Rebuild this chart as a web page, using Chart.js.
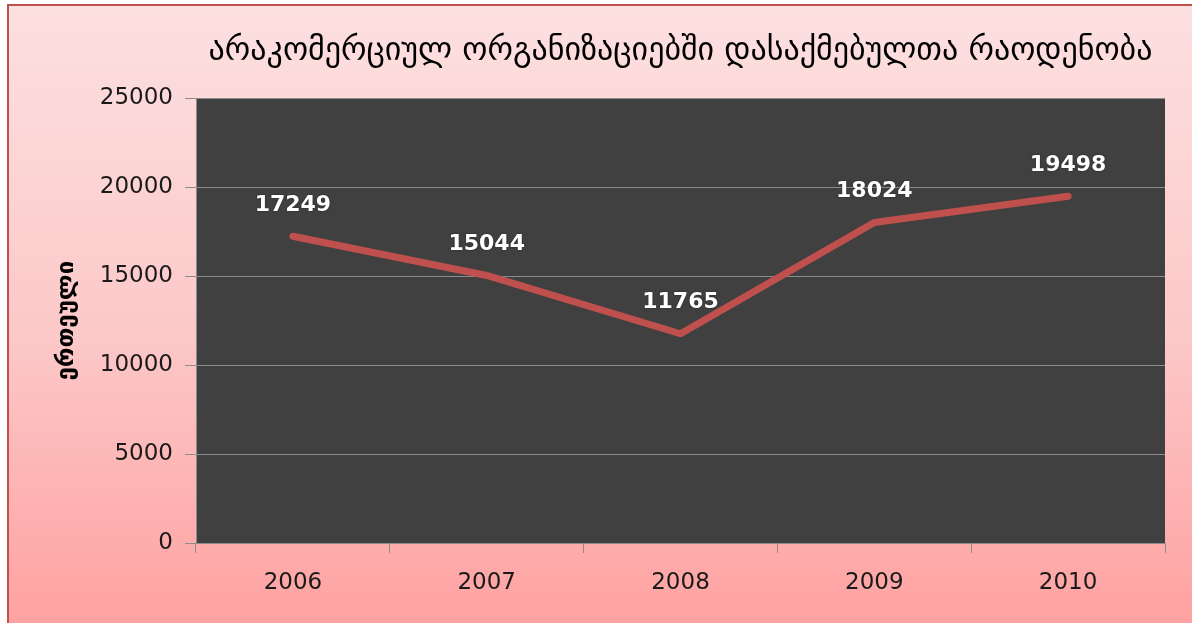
<!DOCTYPE html>
<html>
<head>
<meta charset="utf-8">
<script src="https://cdn.jsdelivr.net/npm/chart.js@4/dist/chart.umd.min.js"></script>
<style>
  html,body{margin:0;padding:0;background:#fff;overflow:hidden}
  #wrap{position:fixed;left:0;top:0;width:1192px;height:623px;overflow:hidden}
  #frame{position:absolute;left:7px;top:4px;width:1240px;height:660px;
    border-left:2px solid #c0504d;border-top:2px solid #c0504d;
    background:linear-gradient(to bottom,#fde0e0 0%,#fcc8c8 50%,#ffa0a0 95%)}
  #c{position:absolute;left:0;top:0}
</style>
</head>
<body>
<div id="wrap">
<div id="frame"></div>
<canvas id="c" width="1192" height="623"></canvas>
</div>
<script>
// ---------- data ----------
const years = ['2006','2007','2008','2009','2010'];
const employed = [17249, 15044, 11765, 18024, 19498];
const yTicks = [0, 5000, 10000, 15000, 20000, 25000];
const chartTitle = 'არაკომერციულ ორგანიზაციებში დასაქმებულთა რაოდენობა';
const yTitle = 'ერთეული';

// dark plot background
const plotBg = {
  id:'plotBg',
  beforeDraw(ch){
    const a = ch.chartArea, c = ch.ctx;
    c.save(); c.fillStyle = '#404040';
    c.fillRect(a.left, a.top, a.right-a.left, a.bottom-a.top);
    c.restore();
  }
};

// value labels above each point
const valueLabels = {
  id:'valueLabels',
  afterDatasetsDraw(ch){
    const c = ch.ctx, meta = ch.getDatasetMeta(0);
    c.save();
    c.font = 'bold 22px "DejaVu Sans"';
    c.fillStyle = '#fff';
    c.textAlign = 'center'; c.textBaseline = 'middle';
    c.shadowColor = 'rgba(0,0,0,.5)'; c.shadowBlur = 2;
    meta.data.forEach((p,i)=> c.fillText(String(employed[i]), p.x, p.y - 31));
    c.restore();
  }
};

new Chart(document.getElementById('c'), {
  type:'line',
  data:{labels:years, datasets:[{
    data:employed, borderColor:'#c0504d', borderWidth:7,
    borderCapStyle:'round', borderJoinStyle:'round',
    pointRadius:0, tension:0, fill:false
  }]},
  options:{
    responsive:false, animation:false,
    layout:{padding:{left:0,right:27,top:0,bottom:0}},
    plugins:{
      legend:{display:false}, tooltip:{enabled:false},
      title:{display:true, fullSize:false, text:chartTitle, color:'#000',
        font:{family:'"DejaVu Sans"', size:32, weight:'normal', lineHeight:1.2},
        padding:{top:32,bottom:28}}
    },
    scales:{
      x:{
        offset:true,
        grid:{drawOnChartArea:false, drawTicks:true, tickLength:10, color:'#8c8c8c', offset:true},
        border:{display:true, color:'#8c8c8c'},
        ticks:{color:'#1a1a1a', padding:16, font:{family:'"DejaVu Sans"', size:23}},
        afterFit(s){ s.height = 80; }
      },
      y:{
        min:0, max:25000,
        afterBuildTicks(s){ s.ticks = yTicks.map(v=>({value:v})); },
        grid:{color:'#8c8c8c', lineWidth:1, tickLength:11},
        border:{display:true, color:'#8c8c8c'},
        ticks:{color:'#1a1a1a', padding:12, font:{family:'"DejaVu Sans"', size:23},
          callback:v=>String(v)},
        title:{display:true, text:yTitle, color:'#000',
          font:{family:'"DejaVu Sans"', size:24, weight:'bold', lineHeight:1.2},
          padding:{top:52,bottom:0}},
        afterFit(s){ s.width = 196; }
      }
    }
  },
  plugins:[plotBg, valueLabels]
});
</script>
</body>
</html>
